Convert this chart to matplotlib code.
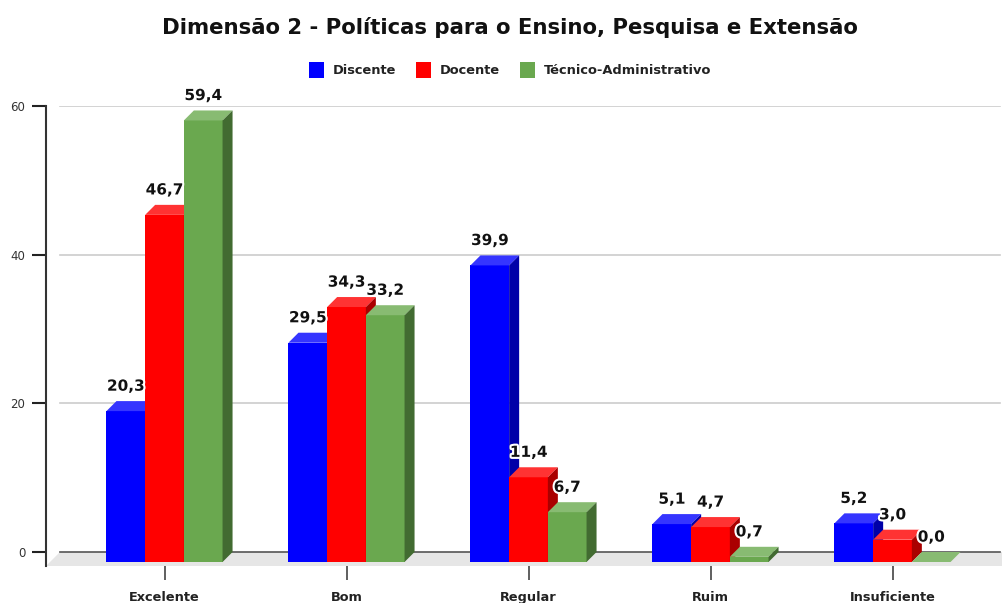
import numpy as np
import matplotlib
matplotlib.use("Agg")
import matplotlib.pyplot as plt
from matplotlib.patches import Polygon, Patch
import matplotlib.patheffects as pe

# data
categorias = ["Excelente", "Bom", "Regular", "Ruim", "Insuficiente"]
series = ["Discente", "Docente", "Técnico-Administrativo"]
discente = [20.3, 29.5, 39.9, 5.1, 5.2]
docente = [46.7, 34.3, 11.4, 4.7, 3.0]
tecnico = [59.4, 33.2, 6.7, 0.7, 0.0]
yticks = [0, 20, 40, 60]

# front / top / side colours per series
cores = [
    ("#0000ff", "#3535ff", "#0000a8"),
    ("#ff0000", "#ff3333", "#aa0000"),
    ("#6aa84f", "#88bb72", "#426b31"),
]

W, H = 1002, 603
fig = plt.figure(figsize=(W / 100, H / 100), dpi=100)
ax = fig.add_axes([46 / W, (H - 566) / H, 956 / W, 460 / H])

px_x = 182.0          # pixels per category
px_y = 446.0 / 60     # pixels per unit
x0 = (46 - 164.5) / px_x
x1 = (1002 - 164.5) / px_x
ax.set_xlim(x0, x1)
ax.set_ylim(-14 / px_y, 60)

depth = 10            # pixel depth of bars
dx = depth / px_x
dy = depth / px_y
fdx = 14 / px_x       # floor depth
fdy = 14 / px_y

# floor
ax.add_patch(Polygon([(x0, -fdy), (x0 + fdx, 0), (x1, 0), (x1, -fdy)],
                     closed=True, fc="#e6e6e6", ec="none", zorder=1))
# grid
for t in yticks:
    ax.plot([x0 + fdx, x1 - 2 / px_x], [t, t],
            color="#555555" if t == 0 else "#cccccc", lw=1.2, zorder=1.5)

w = 38.7 / px_x
valores = [discente, docente, tecnico]
for i in range(len(categorias)):
    for k, vals in enumerate(valores):
        v = vals[i]
        fc, tc, sc = cores[k]
        l = i + (k - 1.5) * w
        r = l + w
        yb = -dy
        yt = v - dy
        z = 2 + k * 0.1
        ax.add_patch(Polygon([(l, yb), (r, yb), (r, yt), (l, yt)], closed=True,
                             fc=fc, ec="none", zorder=z))
        ax.add_patch(Polygon([(l, yt), (r, yt), (r + dx, v), (l + dx, v)], closed=True,
                             fc=tc, ec="none", zorder=z))
        ax.add_patch(Polygon([(r, yb), (r + dx, 0), (r + dx, v), (r, yt)], closed=True,
                             fc=sc, ec="none", zorder=z))
        txt = ax.annotate(f"{v:.1f}".replace(".", ","), (l + w / 2, v),
                          xytext=(0, 7.5), textcoords="offset points",
                          ha="center", va="baseline", fontsize=11,
                          fontweight="bold", color="#111111", zorder=5)
        txt.set_path_effects([pe.withStroke(linewidth=3, foreground="white")])

# axes styling
for s in ["top", "right", "bottom"]:
    ax.spines[s].set_visible(False)
ax.spines["left"].set_color("#333333")
ax.spines["left"].set_linewidth(1.5)
ax.spines["left"].set_bounds(-14 / px_y, 60)
ax.set_yticks(yticks)
ax.tick_params(axis="y", length=10, width=1.5, color="#222222", pad=5,
               labelsize=8.5, labelcolor="#333333")
ax.set_xticks(range(len(categorias)))
ax.set_xticklabels(categorias, fontweight="bold", fontsize=9.3, color="#222222")
ax.tick_params(axis="x", length=10, width=1.2, color="#444444", pad=8)
ax.patch.set_alpha(0)

fig.text(510 / W, 1 - 28 / H, "Dimensão 2 - Políticas para o Ensino, Pesquisa e Extensão",
         ha="center", va="center", fontsize=15.3, fontweight="bold", color="#111111")

handles = [Patch(fc=c[0], ec="none") for c in cores]
leg = fig.legend(handles, series, loc="center", bbox_to_anchor=(510 / W, 1 - 70 / H),
                 ncol=3, frameon=False, handlelength=1.15, handleheight=1.4,
                 handletextpad=0.7, columnspacing=1.5,
                 prop={"weight": "bold", "size": 9.4})
for t in leg.get_texts():
    t.set_color("#222222")

fig.savefig("out.png", dpi=100)
